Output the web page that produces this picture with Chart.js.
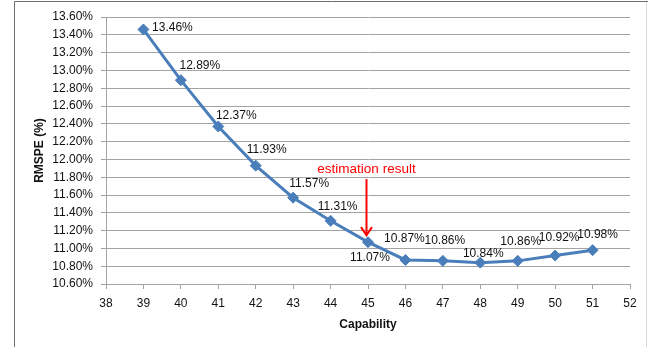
<!DOCTYPE html>
<html>
<head>
<meta charset="utf-8">
<script src="https://cdn.jsdelivr.net/npm/chart.js@4/dist/chart.umd.min.js"></script>
<style>
  html, body { margin: 0; padding: 0; background: #ffffff; overflow: hidden; }
  #wrap { width: 652px; height: 347px; position: relative; }
</style>
</head>
<body>
<div id="wrap"><canvas id="chart" width="652" height="347"></canvas></div>
<script>
// RMSPE by capability
const capability = [39, 40, 41, 42, 43, 44, 45, 46, 47, 48, 49, 50, 51];
const rmspe = [13.46, 12.89, 12.37, 11.93, 11.57, 11.31, 11.07, 10.87, 10.86, 10.84, 10.86, 10.92, 10.98];

// axis ranges and tick steps
const xRange = [38, 52];
const xStep = 1;
const yRange = [10.6, 13.6];
const yStep = 0.2;

// callout
const estimateCapability = 45;
const estimateText = 'estimation result';

const FONT = '"Liberation Sans", Arial, sans-serif';
const TEXT = '#111111';
const GRID = '#a3a3a3';
const LINE = '#4a7ebb';

// label placement relative to each marker (dx, dy in px)
const labelOffsets = [
  [29, -2], [19, -15], [18, -11], [11, -16], [16, -14], [7, -14], [2, 16],
  [-1, -21], [2, -20], [3, -9], [3, -19], [4, -18], [5, -15]
];

const frame = {
  id: 'frame',
  beforeDraw(chart) {
    const ctx = chart.ctx;
    ctx.save();
    ctx.lineWidth = 1;
    ctx.strokeStyle = '#6e6e6e';
    ctx.beginPath();
    ctx.moveTo(14.5, 347);
    ctx.lineTo(14.5, 1.5);
    ctx.lineTo(648, 1.5);
    ctx.stroke();
    ctx.strokeStyle = '#d9d9d9';
    ctx.beginPath();
    ctx.moveTo(646.5, 2);
    ctx.lineTo(646.5, 347);
    ctx.stroke();
    ctx.restore();
  }
};

const valueLabels = {
  id: 'valueLabels',
  afterDatasetsDraw(chart) {
    const ctx = chart.ctx;
    const meta = chart.getDatasetMeta(0);
    ctx.save();
    ctx.font = '12px ' + FONT;
    ctx.fillStyle = TEXT;
    ctx.textAlign = 'center';
    ctx.textBaseline = 'middle';
    meta.data.forEach((pt, i) => {
      const [dx, dy] = labelOffsets[i] || [0, -14];
      ctx.fillText(rmspe[i].toFixed(2) + '%', pt.x + dx, pt.y + dy);
    });
    ctx.restore();
  }
};

const callout = {
  id: 'callout',
  afterDatasetsDraw(chart) {
    const ctx = chart.ctx;
    const xs = chart.scales.x, ys = chart.scales.y;
    const idx = capability.indexOf(estimateCapability);
    const x = Math.round(xs.getPixelForValue(estimateCapability)) - 1.5;
    const tip = ys.getPixelForValue(rmspe[idx]) - 7;
    const tail = tip - 56;
    ctx.save();
    ctx.strokeStyle = '#ff0000';
    ctx.lineWidth = 2;
    ctx.beginPath();
    ctx.moveTo(x, tail);
    ctx.lineTo(x, tip);
    ctx.stroke();
    ctx.beginPath();
    ctx.moveTo(x - 5.5, tip - 8);
    ctx.lineTo(x, tip);
    ctx.lineTo(x + 5.5, tip - 8);
    ctx.stroke();
    ctx.fillStyle = '#ff0000';
    ctx.font = '13.5px ' + FONT;
    ctx.textAlign = 'center';
    ctx.textBaseline = 'middle';
    ctx.fillText(estimateText, x, tail - 10);
    ctx.restore();
  }
};

new Chart(document.getElementById('chart'), {
  type: 'line',
  data: {
    datasets: [{
      data: capability.map((c, i) => ({ x: c, y: rmspe[i] })),
      borderColor: LINE,
      backgroundColor: LINE,
      borderWidth: 3,
      pointStyle: 'rectRot',
      pointRadius: 5.5,
      pointBorderWidth: 1,
      pointBackgroundColor: LINE,
      pointBorderColor: LINE,
      tension: 0,
      clip: false
    }]
  },
  options: {
    responsive: false,
    animation: false,
    devicePixelRatio: 1,
    layout: { padding: { top: 17, right: 22, left: 0, bottom: 0 } },
    plugins: {
      legend: { display: false },
      tooltip: { enabled: false }
    },
    scales: {
      x: {
        type: 'linear',
        min: xRange[0],
        max: xRange[1],
        ticks: {
          stepSize: xStep,
          color: TEXT,
          font: { family: FONT, size: 12 },
          padding: 7,
          maxRotation: 0
        },
        grid: { drawOnChartArea: false, drawTicks: true, tickLength: 5, color: GRID },
        border: { color: GRID },
        title: {
          display: true,
          text: 'Capability',
          color: TEXT,
          font: { family: FONT, size: 12, weight: 'bold' },
          padding: { top: 0, bottom: 15 }
        },
        afterFit(scale) { scale.height = 63; }
      },
      y: {
        type: 'linear',
        min: yRange[0],
        max: yRange[1],
        ticks: {
          stepSize: yStep,
          color: TEXT,
          font: { family: FONT, size: 12 },
          padding: 8,
          callback: v => v.toFixed(2) + '%'
        },
        grid: { color: GRID, tickLength: 5 },
        border: { color: GRID },
        title: {
          display: true,
          text: 'RMSPE (%)',
          color: TEXT,
          font: { family: FONT, size: 12, weight: 'bold' },
          padding: { top: 32, bottom: 0 }
        },
        afterFit(scale) { scale.width = 106; }
      }
    }
  },
  plugins: [frame, valueLabels, callout]
});
</script>
</body>
</html>
